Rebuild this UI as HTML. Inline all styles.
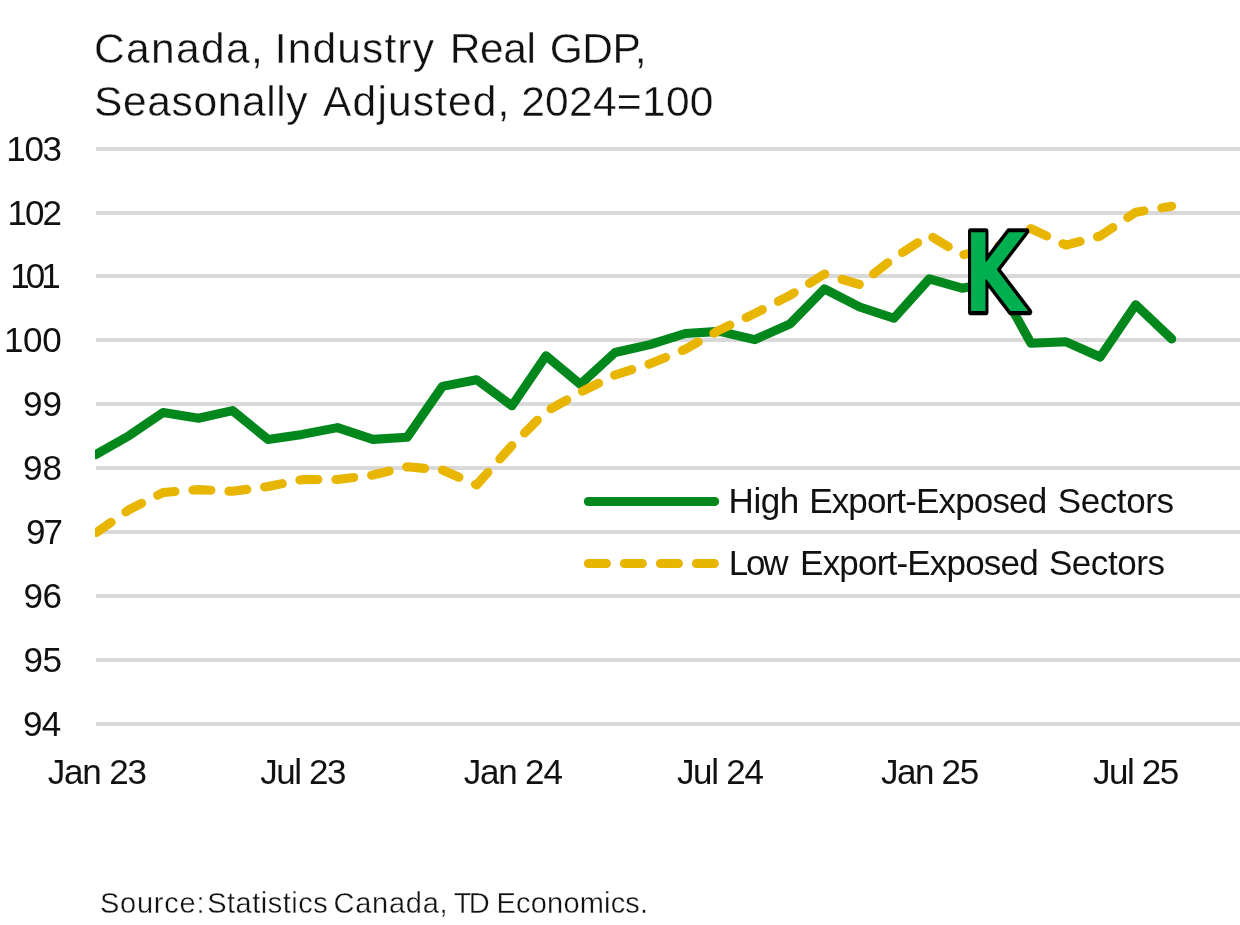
<!DOCTYPE html>
<html lang="en">
<head>
<meta charset="utf-8">
<title>Canada, Industry Real GDP</title>
<style>
html,body{margin:0;padding:0;background:#fff;}
body{width:1240px;height:925px;overflow:hidden;}
svg{display:block;will-change:transform;transform:translateZ(0);}
text{font-family:'Liberation Sans', sans-serif;fill:#111;}
.t{font-size:42.5px;stroke:#fff;stroke-width:0.35px;paint-order:fill stroke;}
.ax{font-size:35px;}
.lb{font-size:35px;}
.src{font-size:29px;stroke:#fff;stroke-width:0.35px;paint-order:fill stroke;}
.k{font-family:'DejaVu Sans','Liberation Sans',sans-serif;font-size:110.6px;font-weight:bold;stroke:#000;stroke-linejoin:round;vector-effect:non-scaling-stroke;}
.ka{fill:#00b050;stroke-width:5.6px;paint-order:stroke fill;}
.kb{fill:none;stroke-width:1.6px;}
</style>
</head>
<body>
<svg width="1240" height="925" viewBox="0 0 1240 925">
<rect x="0" y="0" width="1240" height="925" fill="#ffffff"/>
<defs><clipPath id="plot"><rect x="95" y="120" width="1145" height="640"/></clipPath></defs>
<g stroke="#d9d9d9" stroke-width="4.1" fill="none">
<line x1="96" y1="149.00" x2="1240" y2="149.00"/>
<line x1="96" y1="213.00" x2="1240" y2="213.00"/>
<line x1="96" y1="276.00" x2="1240" y2="276.00"/>
<line x1="96" y1="340.00" x2="1240" y2="340.00"/>
<line x1="96" y1="404.00" x2="1240" y2="404.00"/>
<line x1="96" y1="468.00" x2="1240" y2="468.00"/>
<line x1="96" y1="532.00" x2="1240" y2="532.00"/>
<line x1="96" y1="596.00" x2="1240" y2="596.00"/>
<line x1="96" y1="660.00" x2="1240" y2="660.00"/>
<line x1="96" y1="724.00" x2="1240" y2="724.00"/>
</g>
<text class="t" y="63.0"><tspan x="94.06" textLength="168.76" lengthAdjust="spacing">Canada,</tspan> <tspan x="274.71" textLength="159.21" lengthAdjust="spacing">Industry</tspan> <tspan x="449.73" textLength="86.15" lengthAdjust="spacing">Real</tspan> <tspan x="549.80" textLength="96.74" lengthAdjust="spacing">GDP,</tspan></text>
<text class="t" y="116.2"><tspan x="94.03" textLength="213.58" lengthAdjust="spacing">Seasonally</tspan> <tspan x="323.11" textLength="186.31" lengthAdjust="spacing">Adjusted,</tspan> <tspan x="521.15" textLength="192.34" lengthAdjust="spacing">2024=100</tspan></text>
<text class="lb" y="513.4"><tspan x="728.62" textLength="70.68" lengthAdjust="spacing">High</tspan> <tspan x="809.18" textLength="238.00" lengthAdjust="spacing">Export-Exposed</tspan> <tspan x="1057.82" textLength="116.07" lengthAdjust="spacing">Sectors</tspan></text>
<text class="lb" y="575.2"><tspan x="728.66" textLength="59.90" lengthAdjust="spacing">Low</tspan> <tspan x="800.11" textLength="238.55" lengthAdjust="spacing">Export-Exposed</tspan> <tspan x="1048.89" textLength="116.14" lengthAdjust="spacing">Sectors</tspan></text>
<text class="src" y="913.0"><tspan x="99.92" textLength="104.53" lengthAdjust="spacing">Source:</tspan> <tspan x="207.25" textLength="120.38" lengthAdjust="spacing">Statistics</tspan> <tspan x="333.48" textLength="114.12" lengthAdjust="spacing">Canada,</tspan> <tspan x="453.66" textLength="36.08" lengthAdjust="spacing">TD</tspan> <tspan x="496.58" textLength="151.48" lengthAdjust="spacing">Economics.</tspan></text>
<text class="ax" y="161.2"><tspan x="6.25" textLength="55.78" lengthAdjust="spacing">103</tspan></text>
<text class="ax" y="225.2"><tspan x="7.58" textLength="54.42" lengthAdjust="spacing">102</tspan></text>
<text class="ax" y="288.2"><tspan x="10.16" textLength="50.56" lengthAdjust="spacing">101</tspan></text>
<text class="ax" y="352.2"><tspan x="3.96" textLength="57.67" lengthAdjust="spacing">100</tspan></text>
<text class="ax" y="416.2"><tspan x="22.95" textLength="38.98" lengthAdjust="spacing">99</tspan></text>
<text class="ax" y="480.2"><tspan x="23.11" textLength="38.84" lengthAdjust="spacing">98</tspan></text>
<text class="ax" y="544.2"><tspan x="25.95" textLength="36.91" lengthAdjust="spacing">97</tspan></text>
<text class="ax" y="608.2"><tspan x="23.61" textLength="38.36" lengthAdjust="spacing">96</tspan></text>
<text class="ax" y="672.2"><tspan x="23.61" textLength="38.25" lengthAdjust="spacing">95</tspan></text>
<text class="ax" y="736.2"><tspan x="22.89" textLength="38.43" lengthAdjust="spacing">94</tspan></text>
<text class="lb" y="784.2"><tspan x="47.74" textLength="99.19" lengthAdjust="spacing">Jan 23</tspan></text>
<text class="lb" y="784.2"><tspan x="260.21" textLength="86.35" lengthAdjust="spacing">Jul 23</tspan></text>
<text class="lb" y="784.2"><tspan x="463.71" textLength="99.15" lengthAdjust="spacing">Jan 24</tspan></text>
<text class="lb" y="784.2"><tspan x="676.89" textLength="87.05" lengthAdjust="spacing">Jul 24</tspan></text>
<text class="lb" y="784.2"><tspan x="880.89" textLength="98.24" lengthAdjust="spacing">Jan 25</tspan></text>
<text class="lb" y="784.2"><tspan x="1092.89" textLength="86.42" lengthAdjust="spacing">Jul 25</tspan></text>
<g clip-path="url(#plot)" fill="none" stroke-linecap="round" stroke-linejoin="round">
<path d="M95.8,454.6 L129.2,435.6 L163.1,412.5 L198.4,418.2 L232.6,410.6 L268.0,439.4 L302.2,434.4 L337.5,427.6 L372.9,439.4 L407.1,437.3 L442.4,386.4 L476.6,379.7 L512.0,405.8 L546.0,355.7 L580.3,384.3 L615.0,352.5 L649.9,344.6 L685.3,333.5 L719.5,331.4 L754.8,339.6 L790.2,323.8 L824.4,288.9 L859.7,307.0 L893.9,318.2 L929.3,278.9 L962.0,288.2 L997.0,282.0 L1031.0,343.3 L1066.1,341.8 L1100.2,357.0 L1135.7,304.8 L1171.7,338.9" stroke="#02871c" stroke-width="9.1"/>
<path d="M95.8,533.0 L129.2,509.6 L163.1,492.5 L198.4,489.6 L232.6,491.3 L268.0,486.5 L302.2,479.6 L337.5,479.5 L372.9,475.0 L407.1,466.8 L442.4,470.0 L476.6,484.9 L512.0,445.5 L546.0,411.5 L580.3,392.3 L615.0,375.0 L649.9,363.9 L685.3,349.2 L719.5,330.0 L754.8,313.5 L790.2,295.2 L824.4,274.0 L859.7,284.6 L893.9,258.0 L929.3,235.2 L962.0,255.0 L997.0,247.0 L1031.0,228.6 L1066.1,245.2 L1100.2,236.0 L1135.7,212.3 L1171.7,206.2" stroke="#e8b500" stroke-width="9.1" stroke-dasharray="18 18" stroke-dashoffset="-0.7"/>
</g>
<g fill="none" stroke-linecap="round">
<line x1="588.4" y1="501.5" x2="714.6" y2="501.5" stroke="#02871c" stroke-width="9.1"/>
<line x1="588.4" y1="563.5" x2="714.6" y2="563.5" stroke="#e8b500" stroke-width="9.1" stroke-dasharray="18 18"/>
</g>
<text class="k ka" x="0" y="0" transform="translate(962.7,312.0) scale(0.754,1)">K</text>
<text class="k kb" aria-hidden="true" x="0" y="0" transform="translate(962.7,312.0) scale(0.754,1)">K</text>
</svg>
</body>
</html>
